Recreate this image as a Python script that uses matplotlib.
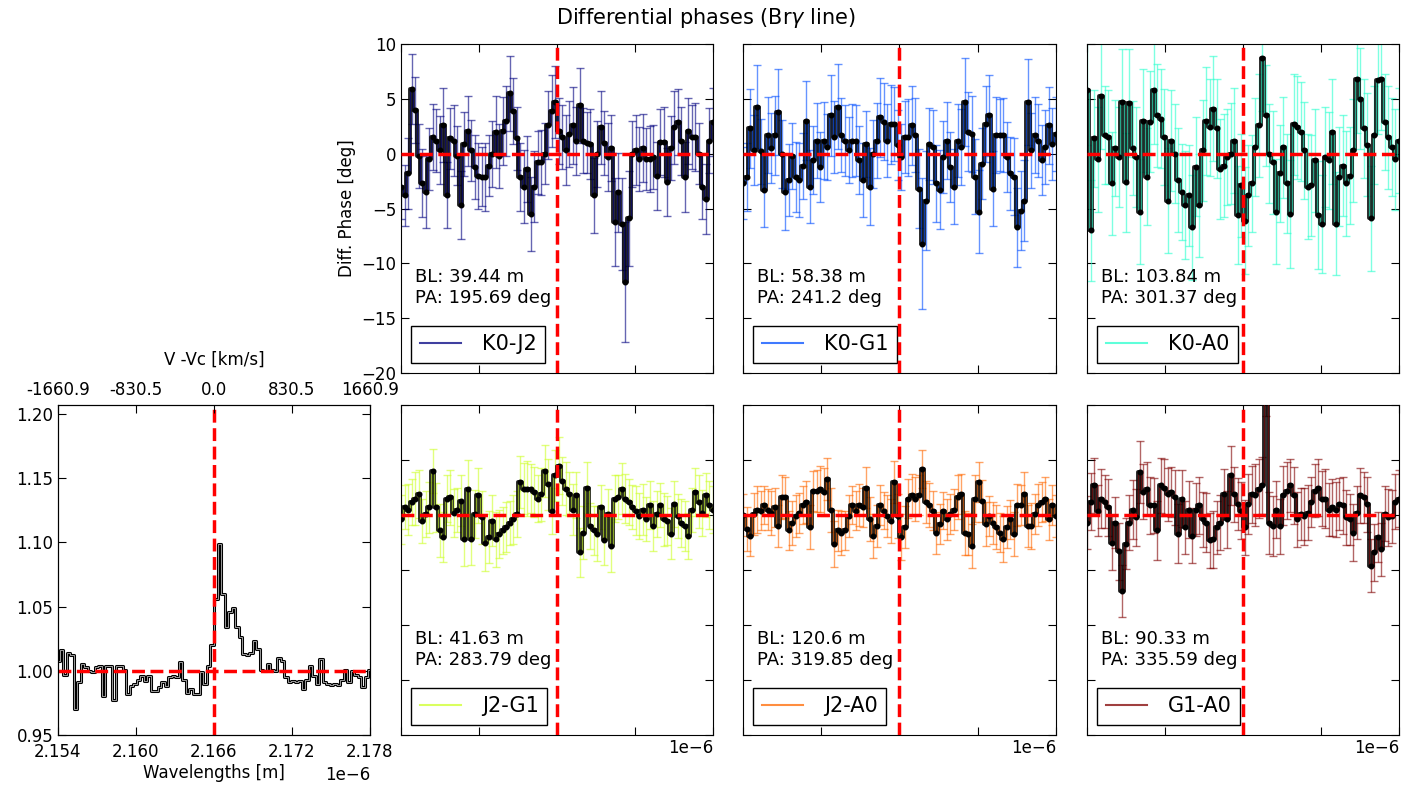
import numpy as np
import matplotlib
matplotlib.use("Agg")
import matplotlib.pyplot as plt
from matplotlib.lines import Line2D

# wavelength grid (m) and the Br gamma line centre
wl = np.linspace(2.154, 2.178, 90) * 1e-6
wl_line = 2.166e-6
wl_ticks = [2.154e-6, 2.160e-6, 2.166e-6, 2.172e-6, 2.178e-6]
vel_labels = ["-1660.9", "-830.5", "0.0", "830.5", "1660.9"]

# normalised spectrum
flux = [1.008, 1.016, 0.997, 1.014, 1.012, 0.970, 0.991, 1.005, 1.003, 1.000,
        0.999, 1.003, 1.004, 0.980, 1.004, 1.004, 0.977, 1.004, 1.004, 1.001,
        0.982, 0.988, 0.990, 0.993, 0.996, 0.992, 0.996, 0.984, 0.984, 0.987,
        0.991, 0.988, 0.995, 0.996, 0.995, 1.007, 0.993, 0.983, 0.986, 0.982,
        0.982, 0.999, 0.990, 1.004, 1.020, 1.056, 1.099, 1.060, 1.034, 1.046,
        1.049, 1.034, 1.026, 1.013, 1.012, 1.014, 1.023, 1.017, 1.001, 1.000,
        1.005, 1.001, 1.000, 1.010, 1.008, 0.995, 0.991, 0.992, 0.991, 0.992,
        0.986, 0.993, 1.004, 0.996, 0.990, 1.009, 0.991, 0.990, 0.989, 0.990,
        0.989, 0.993, 1.001, 0.991, 1.000, 0.997, 0.995, 0.987, 0.995, 1.001]

baselines = ["K0-J2", "K0-G1", "K0-A0", "J2-G1", "J2-A0", "G1-A0"]
bl_len = ["39.44", "58.38", "103.84", "41.63", "120.6", "90.33"]
bl_pa = ["195.69", "241.2", "301.37", "283.79", "319.85", "335.59"]

# differential phases (deg)
dp_k0j2 = [-3.0, -3.8, -1.8, 5.9, 4.0, -0.2, -2.7, -3.5, -0.5, 1.5,
           1.2, 0.3, 2.6, -3.8, 1.4, 1.2, -0.2, -4.7, 0.9, 2.1,
           0.3, -1.2, -2.0, -2.1, -2.1, -1.1, 0.0, 2.0, -0.2, 2.1,
           3.0, 5.5, 3.9, 1.4, -2.1, -3.0, -1.4, -5.5, -3.0, -0.8,
           -0.8, 0.0, 2.6, 3.9, 4.7, 2.1, 1.5, 0.3, 1.8, 2.6,
           1.2, 4.4, 1.2, 1.0, 0.9, -3.8, 0.0, 2.4, 1.0, -0.3,
           0.5, -6.2, -3.5, -6.4, -11.7, -5.9, 0.0, 0.3, -0.5, 0.5,
           -0.5, -0.5, -0.3, -2.0, 1.1, 1.1, -2.6, 0.5, 2.4, 2.9,
           1.2, -2.1, 2.1, 1.5, 1.5, 0.0, -3.0, -4.1, 1.2, 2.9]
dp_k0g1 = [-2.7, -2.1, 2.3, 0.3, 4.3, 0.2, -3.3, 1.7, 0.5, 1.7,
           3.8, 0.0, -3.5, -2.4, -0.2, -2.1, -2.4, -1.1, 3.0, -3.0,
           -0.6, 1.2, -1.2, 1.2, 0.6, 3.5, 1.5, 4.3, 1.7, 1.2,
           0.3, 1.2, 1.2, -0.6, -2.4, 0.9, -3.0, 0.0, 1.2, 3.3,
           2.9, 1.2, 2.7, 2.7, 0.8, -0.3, 1.5, 1.5, 2.6, 1.7,
           -3.2, -8.2, -4.3, 0.9, 0.6, -2.7, -3.3, -0.3, 1.2, -1.2,
           -3.0, 1.2, 0.6, 4.7, 2.0, 1.8, -2.1, -5.3, -0.9, 2.7,
           3.5, -3.2, 1.7, 1.7, 1.7, -0.3, -1.8, -2.1, -6.7, -5.2,
           -4.3, 4.7, 0.3, 1.7, 1.2, -0.6, 0.6, 2.6, 0.9, 1.8]
dp_k0a0 = [5.8, -7.0, 1.4, -0.5, 5.3, 1.7, 1.5, -2.7, 0.5, -0.3,
           4.7, -2.6, 4.6, 0.5, -0.3, -5.3, 3.0, -2.1, 2.9, 5.8,
           3.5, 3.2, 1.5, -4.3, 1.2, 0.0, -2.4, -3.5, -4.7, -3.8,
           -6.7, -1.2, -4.7, 0.3, 3.0, 2.4, 4.1, 2.3, -1.4, -1.1,
           -0.3, 0.0, 1.2, -5.6, -2.9, -6.1, -3.8, -2.7, 0.6, 2.6,
           8.7, 3.5, 0.0, -0.8, -5.3, -1.8, 0.6, -2.7, -5.5, 2.7,
           2.4, 2.0, 0.3, -3.0, -2.9, -0.6, -5.6, -6.4, -0.3, -0.6,
           2.0, -6.4, -2.1, -1.1, -2.7, -2.0, 0.3, 6.8, 5.0, 2.3,
           0.8, -5.9, 1.7, 6.7, 6.8, 2.9, 1.5, 0.6, -0.5, 1.2]
dp_j2g1 = [-0.4, 0.7, 0.5, 1.2, 1.5, 1.9, -0.5, 0.1, 0.7, 4.0,
           0.7, -1.4, -2.0, 1.5, 1.6, 0.2, 0.5, 1.3, -2.2, 2.4,
           -2.2, 0.1, 1.8, -0.2, -2.5, -2.0, -0.5, -2.2, -1.7, -1.4,
           -1.1, -0.7, -0.4, 0.1, 3.0, 2.4, 2.4, 2.4, 2.1, 1.5,
           1.9, 4.0, 2.8, 0.4, 3.6, 4.5, 3.1, 2.4, 1.9, 0.5,
           1.8, -3.4, -1.6, 2.5, -1.0, -1.4, -1.7, 0.7, -2.3, 0.1,
           -2.8, 1.5, 1.6, 2.4, 1.5, 1.2, 0.7, 0.4, -0.1, 0.5,
           -0.4, 0.9, -1.0, 0.1, 0.9, -0.4, -0.5, -1.7, 1.0, -0.1,
           -0.7, -1.0, -1.9, 0.5, 2.1, 1.2, 0.2, 1.8, 0.9, 0.5]
dp_j2a0 = [0.0, -1.3, -1.9, 0.1, 0.5, 0.4, 0.9, 0.5, 0.2, 0.7,
           -1.0, 1.6, 1.6, -1.4, -0.7, -0.1, 0.2, 0.9, 1.2, -1.1,
           2.2, 2.2, 2.4, 2.1, 3.3, 0.5, -2.6, -1.4, -1.6, -1.4,
           -0.1, 0.9, 0.4, 0.9, 0.7, 2.5, -0.4, -1.9, -1.0, 0.9,
           0.4, -0.1, -0.5, 3.0, -0.1, -2.0, -1.1, 1.5, 1.8, 1.5,
           1.8, 4.2, 1.2, 0.9, 0.4, -1.6, -0.8, 0.4, -0.4, 0.1,
           0.5, 1.6, 1.9, -1.6, -1.7, -2.8, 1.5, 3.0, 1.3, -0.8,
           -0.1, -0.7, -1.1, -1.6, -2.2, -1.1, -0.4, -1.7, 0.9, 0.9,
           1.9, -1.0, -1.0, 0.1, 0.9, 1.2, 1.5, -0.4, 0.9, -0.1]
dp_g1a0 = [-0.7, 1.2, 2.7, 0.4, 1.5, 1.2, 0.7, -2.5, -0.7, -3.3,
           -6.9, -2.6, -0.7, 0.5, -0.2, 3.9, 2.1, 2.4, 0.9, 0.9,
           -1.4, 2.7, 2.5, 1.9, 2.1, 1.6, -1.7, 1.5, -1.1, 0.5,
           -1.9, 0.5, 0.9, -0.4, -0.7, -2.3, -2.2, -1.1, -0.7, 1.9,
           -0.4, 3.6, 1.9, 1.0, 0.4, -1.1, 1.0, 1.9, 1.8, 2.4,
           2.7, 12.0, -0.7, -1.0, 0.5, -1.0, 1.8, 2.2, 2.7, 1.8,
           -0.4, 0.1, -0.1, 0.2, 1.2, 2.2, 2.5, 1.5, 1.5, 0.5,
           0.7, 0.5, 1.0, 0.9, -0.2, -0.4, -1.6, 0.2, 1.8, 1.6,
           1.0, -4.6, -3.4, -2.0, -3.1, 0.1, -0.2, -0.1, 1.2, 1.5]

# phase errors (deg)
err_k0j2 = [3.0, 2.8, 3.2, 3.2, 3.0, 2.9, 3.1, 3.3, 2.8, 3.0,
            2.9, 3.1, 3.4, 3.0, 2.8, 3.2, 2.7, 3.1, 2.9, 3.2,
            2.8, 2.9, 3.0, 2.7, 3.1, 2.8, 3.0, 3.3, 2.9, 3.1,
            3.2, 3.4, 3.0, 2.9, 3.1, 3.3, 3.0, 3.4, 3.2, 2.9,
            3.0, 2.8, 3.1, 3.3, 3.3, 3.0, 2.9, 3.2, 3.0, 3.5,
            3.1, 3.4, 3.0, 2.8, 3.2, 3.4, 3.0, 3.3, 2.9, 3.1,
            3.0, 4.0, 3.6, 4.2, 5.5, 4.3, 3.0, 3.2, 2.9, 3.1,
            2.8, 3.0, 2.9, 3.1, 3.0, 3.2, 3.1, 2.9, 3.3, 3.0,
            3.1, 3.2, 3.0, 2.9, 3.1, 2.8, 3.0, 3.2, 3.0, 3.1]
err_k0g1 = [3.3, 3.1, 3.6, 3.2, 3.8, 3.0, 3.4, 3.5, 3.2, 3.6,
            3.9, 3.1, 3.5, 3.3, 3.0, 3.2, 3.4, 3.0, 3.6, 3.3,
            3.1, 3.4, 3.2, 3.5, 3.0, 3.7, 3.3, 3.9, 3.4, 3.2,
            3.0, 3.3, 3.2, 3.1, 3.4, 3.0, 3.5, 3.1, 3.4, 3.6,
            3.5, 3.3, 3.6, 3.4, 3.2, 3.0, 3.3, 3.5, 3.6, 3.4,
            3.6, 6.0, 4.5, 3.3, 3.4, 3.5, 3.6, 3.3, 3.5, 3.2,
            3.4, 3.3, 3.5, 4.0, 3.6, 3.5, 3.4, 3.8, 3.2, 3.5,
            3.7, 3.4, 3.5, 3.3, 3.4, 3.2, 3.3, 3.5, 3.6, 3.6,
            3.7, 3.9, 3.4, 3.5, 3.3, 3.2, 3.4, 3.5, 3.3, 3.4]
err_k0a0 = [5.0, 4.6, 4.4, 4.8, 4.9, 4.5, 4.3, 4.7, 4.4, 4.6,
            4.8, 4.5, 4.9, 4.3, 4.6, 4.8, 4.7, 4.4, 4.6, 4.9,
            4.7, 4.5, 4.4, 4.8, 4.6, 4.5, 4.7, 4.4, 4.9, 4.6,
            4.8, 4.5, 4.7, 4.6, 4.9, 4.4, 4.8, 4.5, 4.6, 4.7,
            4.4, 4.6, 4.8, 4.5, 4.7, 4.9, 4.6, 4.4, 4.5, 4.7,
            4.8, 4.6, 4.5, 4.7, 4.8, 4.4, 4.6, 4.5, 4.9, 4.6,
            4.7, 4.5, 4.4, 4.8, 4.6, 4.7, 4.9, 4.5, 4.6, 4.4,
            4.8, 4.7, 4.5, 4.6, 4.8, 4.4, 4.7, 4.9, 4.6, 4.5,
            4.7, 4.8, 4.5, 4.9, 4.6, 4.4, 4.7, 4.5, 4.6, 4.8]
err_j2g1 = [2.2, 2.0, 2.3, 2.1, 2.4, 2.2, 2.0, 2.1, 2.3, 2.0,
            2.2, 2.4, 2.3, 2.1, 2.5, 2.2, 2.0, 2.3, 2.4, 2.6,
            2.3, 2.2, 2.5, 2.4, 2.6, 2.4, 2.3, 2.5, 2.2, 2.1,
            2.3, 2.0, 2.2, 2.1, 2.4, 2.3, 2.5, 2.2, 2.3, 2.1,
            2.4, 2.4, 2.3, 2.1, 2.3, 2.6, 2.2, 2.4, 2.0, 2.3,
            2.1, 2.2, 2.4, 2.3, 2.1, 2.2, 2.5, 2.0, 2.2, 2.3,
            2.4, 2.1, 2.0, 2.3, 2.2, 2.1, 2.0, 2.2, 2.1, 2.3,
            2.0, 2.2, 2.3, 2.1, 2.0, 2.4, 2.2, 2.3, 2.1, 2.0,
            2.2, 2.3, 2.1, 2.0, 2.2, 2.4, 2.1, 2.0, 2.2, 2.1]
err_j2a0 = [1.9, 2.0, 1.8, 1.9, 2.1, 1.8, 1.7, 1.9, 2.0, 1.8,
            1.9, 2.0, 1.9, 1.8, 2.0, 1.9, 1.8, 1.7, 1.9, 2.0,
            1.8, 1.9, 2.1, 2.2, 1.9, 2.0, 2.1, 1.9, 2.0, 1.8,
            1.9, 1.7, 1.8, 1.9, 1.8, 1.9, 2.0, 2.0, 1.9, 1.8,
            1.7, 1.9, 2.0, 1.9, 2.0, 2.1, 1.9, 1.8, 1.9, 2.0,
            1.8, 1.7, 1.9, 2.0, 1.8, 1.9, 1.8, 1.7, 1.9, 1.8,
            1.9, 2.0, 1.8, 2.0, 1.9, 2.0, 2.1, 1.8, 1.9, 2.0,
            1.8, 1.9, 2.0, 1.8, 2.1, 1.9, 1.8, 2.0, 1.9, 1.8,
            2.0, 1.9, 2.1, 1.8, 1.9, 1.8, 2.0, 1.9, 1.8, 1.9]
err_g1a0 = [2.4, 2.6, 2.5, 2.3, 2.7, 2.4, 2.6, 2.5, 2.3, 2.6,
            2.4, 2.3, 2.5, 2.7, 2.6, 2.8, 2.5, 2.4, 2.6, 2.5,
            2.7, 2.5, 2.6, 2.4, 2.3, 2.5, 2.7, 2.6, 2.4, 2.6,
            2.5, 2.4, 2.6, 2.5, 2.7, 2.5, 2.6, 2.4, 2.5, 2.3,
            2.6, 2.7, 2.5, 2.4, 2.6, 2.5, 2.7, 2.6, 2.8, 2.7,
            2.6, 3.0, 2.8, 2.7, 2.6, 2.5, 2.7, 2.6, 2.4, 2.6,
            2.5, 2.4, 2.6, 2.5, 2.3, 2.4, 2.6, 2.5, 2.7, 2.4,
            2.6, 2.5, 2.4, 2.6, 2.5, 2.3, 2.6, 2.4, 2.5, 2.3,
            2.5, 2.4, 2.6, 2.3, 2.4, 2.5, 2.6, 2.4, 2.5, 2.6]

phases = [dp_k0j2, dp_k0g1, dp_k0a0, dp_j2g1, dp_j2a0, dp_g1a0]
errors = [err_k0j2, err_k0g1, err_k0a0, err_j2g1, err_j2a0, err_g1a0]

plt.rcParams["font.family"] = ["DejaVu Sans"]
plt.rcParams["font.size"] = 12
plt.rcParams["xtick.direction"] = "in"
plt.rcParams["ytick.direction"] = "in"
plt.rcParams["xtick.top"] = True
plt.rcParams["ytick.right"] = True
plt.rcParams["xtick.major.size"] = 6
plt.rcParams["ytick.major.size"] = 6

W, H = 1413, 789
fig = plt.figure(figsize=(W / 100, H / 100), dpi=100)


def add_ax(x0, y0, x1, y1):
    return fig.add_axes([x0 / W, 1 - y1 / H, (x1 - x0) / W, (y1 - y0) / H])


# spectrum panel
ax = add_ax(58, 405, 370, 735)
ax.plot(wl, flux, drawstyle="steps-mid", color="k", lw=2.2)
ax.plot(wl, flux, drawstyle="steps-mid", color="0.7", lw=0.6)
ax.axvline(wl_line, color="r", ls="--", lw=2.5)
ax.axhline(1.0, color="r", ls="--", lw=2.5)
ax.set_xlim(wl_ticks[0], wl_ticks[-1])
ax.set_ylim(0.95, 1.207)
ax.set_xticks(wl_ticks)
ax.set_yticks([0.95, 1.00, 1.05, 1.10, 1.15, 1.20])
ax.tick_params(axis="x", pad=6)
ax.set_xlabel("Wavelengths [m]", labelpad=2)
ax_top = ax.twiny()
ax_top.set_xlim(ax.get_xlim())
ax_top.set_xticks(wl_ticks)
ax_top.set_xticklabels(vel_labels)
ax_top.tick_params(direction="in", length=6, pad=4)
ax_top.set_xlabel("V -Vc [km/s]", labelpad=12)

# differential phase panels
colors = [plt.cm.jet(i / 5) for i in range(6)]
cols = [(401, 713), (743, 1056), (1087, 1399)]
rows = [(44, 373), (405, 735)]

for i in range(6):
    r, c = divmod(i, 3)
    ax = add_ax(cols[c][0], rows[r][0], cols[c][1], rows[r][1])
    col = colors[i]
    ax.errorbar(wl, phases[i], yerr=errors[i], fmt="none", ecolor=col,
                alpha=0.6, elinewidth=1.0, capsize=3, zorder=2)
    ax.plot(wl, phases[i], drawstyle="steps-mid", color="k", lw=2.8,
            alpha=0.85, zorder=3)
    ax.plot(wl, phases[i], drawstyle="steps-mid", color=col, lw=0.9,
            alpha=0.6, zorder=4)
    ax.plot(wl, phases[i], "o", color="k", ms=3.3, zorder=5)
    ax.axvline(wl_line, color="r", ls="--", lw=2.5, zorder=6)
    ax.axhline(0.0, color="r", ls="--", lw=2.5, zorder=6)
    ax.set_xlim(wl_ticks[0], wl_ticks[-1])
    ax.set_ylim(-20, 10)
    ax.set_xticks(wl_ticks)
    ax.set_yticks([-20, -15, -10, -5, 0, 5, 10])
    ax.tick_params(labelbottom=False)
    if r == 1:
        ax.xaxis.offsetText.set_visible(True)
    if i == 0:
        ax.set_ylabel("Diff. Phase [deg]")
        # lift the lowest label a little so it clears the velocity axis
        ax.get_yticklabels()[0].set_va("center_baseline")
    else:
        ax.tick_params(labelleft=False)
    ax.text(0.045, 0.318, "BL: %s m\nPA: %s deg" % (bl_len[i], bl_pa[i]),
            transform=ax.transAxes, fontsize=13, va="top", ha="left")
    handle = Line2D([], [], color=col, alpha=0.75, lw=1.5)
    ax.legend([handle], [baselines[i]], loc="lower left", fontsize=15,
              fancybox=False, edgecolor="k", framealpha=1,
              handlelength=2.0, handletextpad=1.0)

fig.text(0.4997, 0.977, "Differential phases (Br$\\gamma$ line)",
         ha="center", va="center", fontsize=15)

fig.savefig("out.png", dpi=100)
